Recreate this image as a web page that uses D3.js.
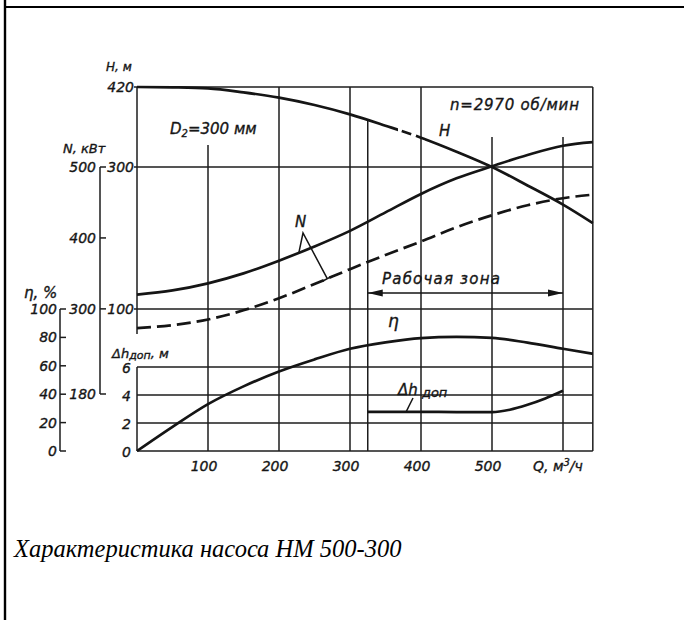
<!DOCTYPE html>
<html>
<head>
<meta charset="utf-8">
<script src="https://cdn.jsdelivr.net/npm/d3@7"></script>
<style>
  html, body { margin: 0; padding: 0; background: #fff; }
  svg { display: block; }
  .lbl { font-family: "DejaVu Sans", sans-serif; font-style: italic; fill: #161616; stroke: #161616; stroke-width: 0.35px; }
</style>
</head>
<body>
<svg id="chart" width="684" height="620"></svg>
<script>
// Pump characteristic: head, power, efficiency and NPSH against flow rate
const flow        = [0, 50, 100, 150, 200, 250, 300, 350, 400, 450, 500, 550, 600, 642];
const head        = [420, 419.5, 418, 412, 404, 393, 379, 362, 344, 323, 300, 274, 247, 221];
const power       = [320, 326, 336, 350, 368, 388, 410, 436, 462, 484, 501, 517, 530, 535];
const powerDashed = [273, 277, 285, 298, 315, 335, 356, 376, 395, 415, 432, 446, 456, 461];
const efficiency  = [0, 17, 33, 45.5, 56, 64.5, 72, 76.5, 79.5, 80.3, 79.7, 76.3, 72, 68.5];

const npshFlow = [325, 350, 400, 450, 500, 525, 550, 575, 600];
const npsh     = [2.8, 2.8, 2.8, 2.78, 2.78, 2.95, 3.3, 3.75, 4.3];

const workZone = [325, 600];

const qTicks   = [100, 200, 300, 400, 500];
const qGrid    = [100, 200, 300, 400, 500, 600];
const hTicks   = [420, 300, 100];
const nTicks   = [500, 400, 300, 180];
const etaTicks = [100, 80, 60, 40, 20, 0];
const dhTicks  = [6, 4, 2, 0];

const svg = d3.select("#chart");
const ink = "#151515";

// scales (the head axis of the drawing is slightly uneven, so it is polylinear)
const x    = d3.scaleLinear().domain([0, 600]).range([137, 563]);
const yH   = d3.scaleLinear().domain([100, 300, 420]).range([309, 167, 87]);
const yN   = d3.scaleLinear().domain([180, 500]).range([394, 167]);
const yEta = d3.scaleLinear().domain([0, 100]).range([451, 309]);
const yDh  = d3.scaleLinear().domain([0, 6]).range([451, 367]);

const qMax = flow[flow.length - 1];
const left = x(0), right = x(qMax);

// value of a series at a given flow (for placing leader lines on curves)
function at(qs, vs, q) {
  const i = Math.max(1, Math.min(qs.length - 1, d3.bisectLeft(qs, q)));
  const t = (q - qs[i - 1]) / (qs[i] - qs[i - 1]);
  return vs[i - 1] + t * (vs[i] - vs[i - 1]);
}

// page frame
svg.append("line").attr("x1", 4).attr("x2", 684).attr("y1", 7).attr("y2", 7)
  .attr("stroke", "#000").attr("stroke-width", 2.2);
svg.append("line").attr("x1", 5).attr("x2", 5).attr("y1", 0).attr("y2", 620)
  .attr("stroke", "#000").attr("stroke-width", 2.4);

const grid = svg.append("g").attr("stroke", "#1c1c1c").attr("stroke-width", 1.5).attr("fill", "none");

// horizontal rulings
[yH(420), yH(300), yH(100)].forEach(y =>
  grid.append("line").attr("x1", left).attr("x2", right).attr("y1", y).attr("y2", y));
dhTicks.forEach(d =>
  grid.append("line").attr("x1", left).attr("x2", right).attr("y1", yDh(d)).attr("y2", yDh(d)));

// frame of the field: left edge broken where the NPSH title sits
grid.append("line").attr("x1", left).attr("x2", left).attr("y1", yH(420)).attr("y2", yN(powerDashed[0]) + 6);
grid.append("line").attr("x1", left).attr("x2", left).attr("y1", yDh(6)).attr("y2", yDh(0));
grid.append("line").attr("x1", right).attr("x2", right).attr("y1", yH(420)).attr("y2", yDh(0));

// vertical rulings by flow
const vTop = { 100: 145, 200: yH(420), 300: yH(420), 400: yH(420), 500: 137, 600: 137 };
qGrid.forEach(q =>
  grid.append("line").attr("x1", x(q)).attr("x2", x(q)).attr("y1", vTop[q]).attr("y2", yDh(0)));
// boundary of the working zone, starting at the head curve
grid.append("line").attr("x1", x(workZone[0])).attr("x2", x(workZone[0]))
  .attr("y1", yH(at(flow, head, workZone[0]))).attr("y2", yDh(0));

// auxiliary axes: power (N) and efficiency (eta)
const axN = 100, axEta = 60;
grid.append("line").attr("x1", axN).attr("x2", axN).attr("y1", yN(500)).attr("y2", yN(180));
nTicks.forEach(v => grid.append("line").attr("x1", axN).attr("x2", axN + 6).attr("y1", yN(v)).attr("y2", yN(v)));
grid.append("line").attr("x1", axEta).attr("x2", axEta).attr("y1", yEta(100)).attr("y2", yEta(0));
etaTicks.forEach(v => grid.append("line").attr("x1", axEta).attr("x2", axEta + 6).attr("y1", yEta(v)).attr("y2", yEta(v)));
hTicks.forEach(v => grid.append("line").attr("x1", left - 3).attr("x2", left).attr("y1", yH(v)).attr("y2", yH(v)));

// curves
const defs = svg.append("defs");
const cutA = 398, cutB = 425;
defs.append("clipPath").attr("id", "hSolid").call(c => {
  c.append("rect").attr("x", 0).attr("y", 0).attr("width", cutA).attr("height", 620);
  c.append("rect").attr("x", cutB).attr("y", 0).attr("width", 684 - cutB).attr("height", 620);
});
defs.append("clipPath").attr("id", "hDash").append("rect")
  .attr("x", cutA).attr("y", 0).attr("width", cutB - cutA).attr("height", 620);

const curves = svg.append("g").attr("fill", "none").attr("stroke", ink)
  .attr("stroke-width", 2.7).attr("stroke-linecap", "butt");

const lineOf = (ys, vals, qs = flow) =>
  d3.line().x((d, i) => x(qs[i])).y((d, i) => ys(vals[i])).curve(d3.curveMonotoneX)(vals);

curves.append("path").attr("d", lineOf(yH, head)).attr("clip-path", "url(#hSolid)");
curves.append("path").attr("d", lineOf(yH, head)).attr("clip-path", "url(#hDash)")
  .attr("stroke-dasharray", "10,5");
curves.append("path").attr("d", lineOf(yN, power));
curves.append("path").attr("d", lineOf(yN, powerDashed)).attr("stroke-dasharray", "14,6");
curves.append("path").attr("d", lineOf(yEta, efficiency));
curves.append("path").attr("d", lineOf(yDh, npsh, npshFlow));

// leader lines of the N label
const apex = [303, 233];
const qN1 = 228, qN2 = 268;
const p1 = [x(qN1), yN(at(flow, power, qN1))];
const p2 = [x(qN2), yN(at(flow, powerDashed, qN2))];
const lead = svg.append("g").attr("stroke", ink).attr("stroke-width", 1.5).attr("fill", "none");
lead.append("polyline").attr("points", [p1, apex, p2].map(p => p.join(",")).join(" "));
{
  const dx = p2[0] - apex[0], dy = p2[1] - apex[1], L = Math.hypot(dx, dy);
  const nx = -dy / L * 5, ny = dx / L * 5;
  lead.append("line").attr("x1", p2[0] - nx).attr("y1", p2[1] - ny).attr("x2", p2[0] + nx).attr("y2", p2[1] + ny);
}
// leader of the NPSH label
const qD = 379;
lead.append("line").attr("x1", 413).attr("y1", 398).attr("x2", x(qD)).attr("y2", yDh(at(npshFlow, npsh, qD)));

// working zone arrow
const yArrow = 293;
const xa = x(workZone[0]), xb = x(workZone[1]);
lead.append("line").attr("x1", xa).attr("x2", xb).attr("y1", yArrow).attr("y2", yArrow);
svg.append("path").attr("fill", ink)
  .attr("d", `M${xa},${yArrow} l15,-3.5 l0,7 Z M${xb},${yArrow} l-15,-3.5 l0,7 Z`);

// text
const T = (str, px, py, size, anchor = "start") =>
  svg.append("text").attr("class", "lbl").attr("x", px).attr("y", py)
    .attr("font-size", size).attr("text-anchor", anchor).text(str);

hTicks.forEach(v => T(v, left - 3, yH(v) + 5, 14, "end"));
nTicks.forEach(v => T(v, axN - 4, yN(v) + 5, 14, "end"));
etaTicks.forEach(v => T(v, axEta - 3, yEta(v) + 5, 14, "end"));
dhTicks.forEach(v => T(v, left - 6, yDh(v) + 6, 14, "end"));
qTicks.forEach(v => T(v, x(v) - 4, 471, 14, "middle"));

T("H, м", 106, 71, 12);
T("N, кВт", 63, 153, 13);
T("η, %", 24, 298, 15);
svg.append("text").attr("class", "lbl").attr("x", 112).attr("y", 358).attr("font-size", 13)
  .call(t => {
    t.append("tspan").text("Δh");
    t.append("tspan").attr("font-size", 11).attr("dy", 1).text("доп");
    t.append("tspan").attr("dy", -1).text(", м");
  });
svg.append("text").attr("class", "lbl").attr("x", 533).attr("y", 471).attr("font-size", 14)
  .call(t => {
    t.append("tspan").text("Q, м");
    t.append("tspan").attr("font-size", 10).attr("dy", -5).text("3");
    t.append("tspan").attr("dy", 5).text("/ч");
  });

svg.append("text").attr("class", "lbl").attr("x", 170).attr("y", 134).attr("font-size", 15)
  .call(t => {
    t.append("tspan").text("D");
    t.append("tspan").attr("font-size", 10).attr("dy", 3).text("2");
    t.append("tspan").attr("dy", -3).text("=300 мм");
  });
T("n=2970 об/мин", 450, 110, 15).attr("letter-spacing", 0.8);
T("H", 439, 136, 15);
T("N", 295, 227, 15);
T("Рабочая зона", 382, 284, 15).attr("letter-spacing", 1.2);
T("η", 388, 327, 17);
svg.append("text").attr("class", "lbl").attr("x", 398).attr("y", 395).attr("font-size", 15)
  .call(t => {
    t.append("tspan").text("Δh");
    t.append("tspan").attr("font-size", 13).attr("dy", 2).text(" доп");
  });

// caption
svg.append("text").attr("x", 14).attr("y", 557)
  .attr("font-family", "'Liberation Serif', 'Times New Roman', serif")
  .attr("font-style", "italic").attr("font-size", 24.5).attr("fill", "#000")
  .text("Характеристика насоса НМ 500-300");
</script>
</body>
</html>
